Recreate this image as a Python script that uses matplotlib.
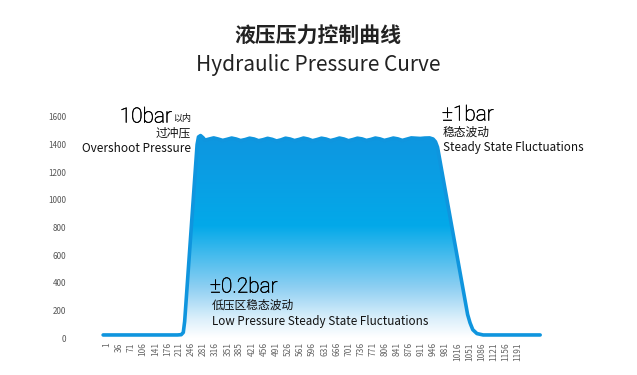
import numpy as np
import matplotlib
matplotlib.use('Agg')
import matplotlib.pyplot as plt
import matplotlib.patheffects as pe
from matplotlib.colors import LinearSegmentedColormap
from matplotlib.patches import Polygon

plt.rcParams['font.family'] = ['Noto Sans CJK SC', 'DejaVu Sans']

# 曲线数据
curve_x = [-10, 205, 216, 222, 226, 262, 266, 272, 279,
           285, 297, 310, 323, 336, 349, 362, 375, 388, 401, 414, 427, 440, 453,
           466, 479, 492, 505, 518, 531, 544, 557, 570, 583, 596, 609, 622, 635,
           648, 661, 674, 687, 700, 713, 726, 739, 752, 765, 778, 791, 804, 817,
           830, 843, 856, 869, 882, 895, 908, 921,
           935, 945, 952, 958, 1045, 1052, 1060, 1072, 1090, 1255]
curve_y = [22, 22, 24, 40, 120, 1400, 1455, 1465, 1450,
           1432, 1440, 1448, 1440, 1430, 1438, 1447, 1440, 1429, 1436, 1446, 1440, 1428, 1435,
           1445, 1438, 1426, 1434, 1446, 1440, 1429, 1437, 1447, 1440, 1428, 1436, 1446, 1440,
           1429, 1437, 1447, 1440, 1428, 1436, 1446, 1441, 1430, 1437, 1447, 1441, 1430, 1438,
           1447, 1441, 1430, 1439, 1448, 1446, 1444, 1447,
           1448, 1440, 1420, 1380, 170, 110, 60, 32, 22, 22]

tick_labels = ['1', '36', '71', '106', '141', '176', '211', '246', '281', '316', '351',
               '385', '421', '456', '491', '526', '561', '596', '631', '666', '701',
               '736', '771', '806', '841', '876', '911', '946', '981', '1016', '1051',
               '1086', '1121', '1156', '1191']
y_ticks = [0, 200, 400, 600, 800, 1000, 1200, 1400, 1600]

fig = plt.figure(figsize=(6.37, 3.75), dpi=100)
ax = fig.add_axes([90 / 637, 37 / 375, 455 / 637, 228 / 375])
ax.set_xlim(-48, 1269)
ax.set_ylim(0, 1650)

# 渐变填充
cmap = LinearSegmentedColormap.from_list('g', [
    (0.0, '#ffffff'), (0.09, '#ddf0fb'), (0.25, '#8dcff2'),
    (0.55, '#03a9e9'), (0.8, '#0a9ee4'), (1.0, '#0e96e0')])
grad = np.linspace(0, 1, 256).reshape(-1, 1)
img = ax.imshow(grad, cmap=cmap, extent=(-48, 1269, 0, 1470), origin='lower',
                aspect='auto', zorder=1)
poly = Polygon(list(zip(curve_x, curve_y)) + [(curve_x[-1], 0), (curve_x[0], 0)],
               closed=True, facecolor='none', edgecolor='none')
ax.add_patch(poly)
img.set_clip_path(poly)

ax.plot(curve_x, curve_y, color='#0f95de', lw=2.6, solid_joinstyle='round',
        solid_capstyle='round', zorder=3)

ax.set_xticks([int(t) for t in tick_labels])
ax.set_xticklabels(tick_labels, rotation=90, fontsize=6, color='#666666')
ax.set_yticks(y_ticks)
ax.set_yticklabels([str(v) for v in y_ticks], fontsize=5.8, color='#555555')
ax.tick_params(axis='both', length=0)
ax.tick_params(axis='y', pad=17)
ax.tick_params(axis='x', pad=3)
for s in ax.spines.values():
    s.set_visible(False)

big = ['Roboto', 'Noto Sans CJK SC']
thin = [pe.withStroke(linewidth=0.35, foreground='#000000')]

# 标题
fig.text(318 / 637, 1 - 36 / 375, '液压压力控制曲线', ha='center', va='center',
         fontsize=15, fontweight='bold', color='#222222')
fig.text(318 / 637, 1 - 65 / 375, 'Hydraulic Pressure Curve', ha='center', va='center',
         fontsize=15, fontweight='light', color='#222222')

# 注释
fig.text(172 / 637, 1 - 117 / 375, '10bar', ha='right', va='center', family=big,
         fontsize=15, fontweight='light', color='#000000', path_effects=thin)
fig.text(191 / 637, 1 - 119 / 375, '以内', ha='right', va='center',
         fontsize=6.5, color='#111111')
fig.text(191 / 637, 1 - 133 / 375, '过冲压', ha='right', va='center',
         fontsize=8.5, color='#111111')
fig.text(191 / 637, 1 - 148 / 375, 'Overshoot Pressure', ha='right', va='center',
         fontsize=8.5, color='#111111')

fig.text(442 / 637, 1 - 115 / 375, '±1bar', ha='left', va='center', family=big,
         fontsize=15, fontweight='light', color='#000000', path_effects=thin)
fig.text(443 / 637, 1 - 132 / 375, '稳态波动', ha='left', va='center',
         fontsize=8.5, color='#111111')
fig.text(443 / 637, 1 - 147 / 375, 'Steady State Fluctuations', ha='left', va='center',
         fontsize=8.4, color='#111111')

fig.text(210 / 637, 1 - 287 / 375, '±0.2bar', ha='left', va='center', family=big,
         fontsize=15, fontweight='light', color='#000000', path_effects=thin)
fig.text(212 / 637, 1 - 305 / 375, '低压区稳态波动', ha='left', va='center',
         fontsize=8.5, color='#111111')
fig.text(212 / 637, 1 - 321 / 375, 'Low Pressure Steady State Fluctuations', ha='left',
         va='center', fontsize=8.4, color='#111111')

fig.savefig('out.png', dpi=100)
